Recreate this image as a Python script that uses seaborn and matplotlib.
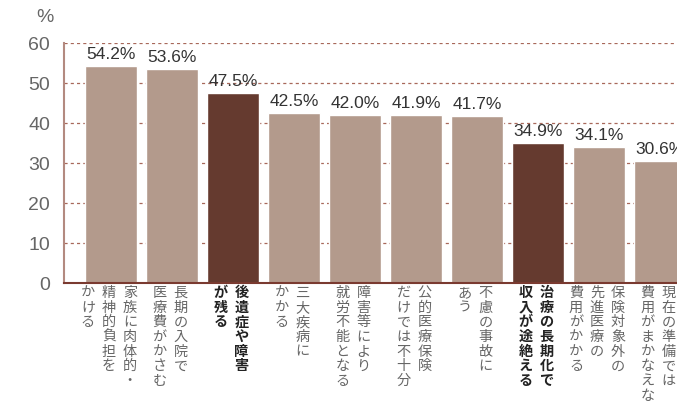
import matplotlib
matplotlib.use("Agg")
import matplotlib.pyplot as plt
import seaborn as sns
import pandas as pd

# data
labels = [
    ["家族に肉体的・", "精神的負担を", "かける"],
    ["長期の入院で", "医療費がかさむ"],
    ["後遺症や障害", "が残る"],
    ["三大疾病に", "かかる"],
    ["障害等により", "就労不能となる"],
    ["公的医療保険", "だけでは不十分"],
    ["不慮の事故に", "あう"],
    ["治療の長期化で", "収入が途絶える"],
    ["保険対象外の", "先進医療の", "費用がかかる"],
    ["現在の準備では", "費用がまかなえない"],
]
values = [54.2, 53.6, 47.5, 42.5, 42.0, 41.9, 41.7, 34.9, 34.1, 30.6]
highlight = [False, False, True, False, False, False, False, True, False, False]
yticks = [0, 10, 20, 30, 40, 50, 60]

light = "#b39a8c"
dark = "#653a2f"

sns.set_style("white")
plt.rcParams["font.family"] = ["Noto Sans CJK JP", "DejaVu Sans"]

df = pd.DataFrame({"item": [str(i) for i in range(len(values))], "value": values})
palette = [dark if h else light for h in highlight]

fig = plt.figure(figsize=(6.77, 4.01), dpi=100)
# axes run past the right edge of the figure, as in the reference
ax = fig.add_axes([64 / 677, 118 / 401, 643 / 677, 240 / 401])

sns.barplot(data=df, x="item", y="value", hue="item", palette=palette,
            legend=False, width=0.85, ax=ax, saturation=1)

ax.set_xlim(-0.77, len(values) - 0.23)
ax.set_ylim(0, 60)
ax.set_yticks(yticks)
ax.set_yticklabels([str(t) for t in yticks], fontsize=14, color="#666666",
                   family=["Liberation Sans", "DejaVu Sans"])
ax.tick_params(axis="y", length=0, pad=10)
ax.set_xticks([])
ax.set_xlabel("")
ax.set_ylabel("")

for t in yticks[1:]:
    ax.axhline(t, color="#a8685a", linestyle=(0, (2.5, 2.5)), linewidth=0.9, zorder=0)

for s in ["top", "right"]:
    ax.spines[s].set_visible(False)
ax.spines["left"].set_color("#b38a80")
ax.spines["left"].set_linewidth(1.5)
ax.spines["bottom"].set_color("#7a3a30")
ax.spines["bottom"].set_linewidth(1.5)

# value labels
for i, v in enumerate(values):
    ax.annotate(f"{v:.1f}%", (i, v), textcoords="offset pixels", xytext=(0, 4),
                ha="center", va="bottom", fontsize=12.5, color="#333333",
                family=["Liberation Sans", "DejaVu Sans"])

# vertical Japanese category labels, columns right to left
col_gap = 21
for i, cols in enumerate(labels):
    n = len(cols)
    for j, col in enumerate(cols):
        dx = (n - 1) / 2 * col_gap - j * col_gap
        ax.annotate("\n".join(col), (i, 0), textcoords="offset pixels",
                    xytext=(dx - 2, -3), ha="center", va="top",
                    fontsize=10.2, linespacing=1.06,
                    color="#222222" if highlight[i] else "#666666",
                    fontweight="bold" if highlight[i] else "normal",
                    annotation_clip=False)

fig.text(45 / 677, 1 - 18 / 401, "%", fontsize=14, color="#666666",
         ha="center", va="center", family=["Liberation Sans", "DejaVu Sans"])

plt.savefig("out.png", dpi=100)
plt.close()
